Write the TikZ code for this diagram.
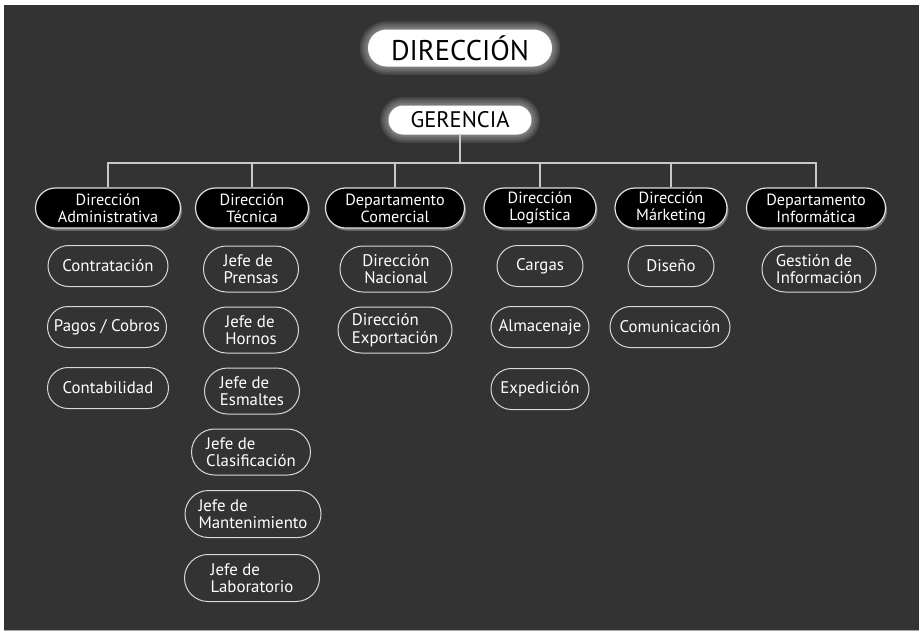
\documentclass[tikz,border=0pt]{standalone}
\usepackage{fontspec}
\setmainfont{PT Sans}
\usetikzlibrary{shapes.misc,shadows}
\definecolor{bgdark}{HTML}{333333}
\definecolor{linegray}{HTML}{C8C8C8}
\definecolor{pillborder}{HTML}{D8D8D8}
\tikzset{
  topbox/.style={rounded rectangle, fill=white, text=black, inner sep=0pt},
  glowring/.style={rounded rectangle, draw=white, draw opacity=0.08, inner sep=0pt},
  deptbox/.style={rounded rectangle, fill=black, draw=pillborder!80, line width=1.2pt,
    text=white, align=center, inner sep=0pt, minimum height=40pt,
    font=\fontsize{16.2}{16.8}\selectfont,
    drop shadow={shadow xshift=1.5pt, shadow yshift=-2.5pt, fill=gray!70, opacity=0.6}},
  unitbox/.style={rounded rectangle, draw=pillborder, line width=1pt, fill=bgdark,
    text=white, inner sep=0pt, font=\fontsize{16.8}{17.5}\selectfont},
  conn/.style={draw=linegray, line width=1.3pt},
}
\begin{document}
\begin{tikzpicture}[x=1pt,y=-1pt]
\useasboundingbox (0,0) rectangle (923,635);
\fill[white] (0,0) rectangle (923,635);
\fill[bgdark] (4,5) rectangle (919,630);
\draw[gray!70, line width=1pt] (4,630) -- (919,630);

% glows
\foreach \w in {2,5,8,11,14,17}{
  \node[glowring, line width=\w pt, minimum width=184pt, minimum height=37pt] at (460,48) {};
  \node[glowring, line width=\w pt, minimum width=143pt, minimum height=29pt] at (460,120) {};
}
\node[topbox, minimum width=184pt, minimum height=37pt, font=\fontsize{28.5}{30}\selectfont] (dir) at (460,48) {DIRECCIÓN};
\node[topbox, minimum width=143pt, minimum height=29pt, font=\fontsize{22.5}{24}\selectfont] (ger) at (460,120) {GERENCIA};

% departments
\node[deptbox, minimum width=145pt] (d1) at (108,208) {Dirección\\Administrativa};
\node[deptbox, minimum width=113pt] (d2) at (252,208) {Dirección\\Técnica};
\node[deptbox, minimum width=139pt] (d3) at (395,208) {Departamento\\Comercial};
\node[deptbox, minimum width=112pt] (d4) at (540,208) {Dirección\\Logística};
\node[deptbox, minimum width=112pt] (d5) at (671,208) {Dirección\\Márketing};
\node[deptbox, minimum width=139pt] (d6) at (816,208) {Departamento\\Informática};

% connectors
\coordinate (hub) at (460,163);
\draw[conn] (ger.south) -- (hub);
\draw[conn] (d1.north) -- (d1.north |- hub) -- (d6.north |- hub) -- (d6.north);
\foreach \n in {d2,d3,d4,d5}{
  \draw[conn] (\n.north) -- (\n.north |- hub);
}

% column 1
\node[unitbox, minimum width=120pt, minimum height=41pt] (u11) at (108,266) {Contratación};
\node[unitbox, minimum width=119pt, minimum height=41pt] (u12) at (107,327) {Pagos / Cobros};
\node[unitbox, minimum width=121pt, minimum height=41pt] (u13) at (108,388) {Contabilidad};
% column 2
\node[unitbox, minimum width=95pt, minimum height=46pt, align=left] (u21) at (251,269) {Jefe de\\Prensas};
\node[unitbox, minimum width=95pt, minimum height=46pt, align=left] (u22) at (251,330) {Jefe de\\Hornos};
\node[unitbox, minimum width=95pt, minimum height=46pt, align=left] (u23) at (252,391) {Jefe de\\Esmaltes};
\node[unitbox, minimum width=119pt, minimum height=46pt, align=left] (u24) at (251,452) {Jefe de\\Clasificación};
\node[unitbox, minimum width=136pt, minimum height=47pt, align=left] (u25) at (253,514) {Jefe de\\Mantenimiento};
\node[unitbox, minimum width=135pt, minimum height=47pt, align=left] (u26) at (252,578) {Jefe de\\Laboratorio};
% column 3
\node[unitbox, minimum width=112pt, minimum height=46pt, align=center] (u31) at (396,269) {Dirección\\Nacional};
\node[unitbox, minimum width=114pt, minimum height=46pt, align=left] (u32) at (395,330) {Dirección\\Exportación};
% column 4
\node[unitbox, minimum width=86pt, minimum height=41pt] (u41) at (540,266) {Cargas};
\node[unitbox, minimum width=98pt, minimum height=41pt] (u42) at (540,327) {Almacenaje};
\node[unitbox, minimum width=98pt, minimum height=41pt] (u43) at (540,389) {Expedición};
% column 5
\node[unitbox, minimum width=86pt, minimum height=41pt] (u51) at (671,266) {Diseño};
\node[unitbox, minimum width=120pt, minimum height=41pt] (u52) at (670,327) {Comunicación};
% column 6
\node[unitbox, minimum width=114pt, minimum height=46pt, align=left] (u61) at (819,269) {Gestión de\\Información};
\end{tikzpicture}
\end{document}
